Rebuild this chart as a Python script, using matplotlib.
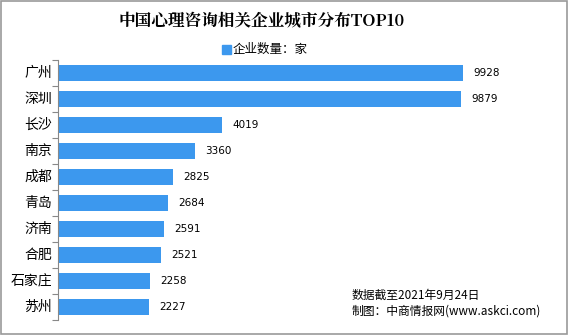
import matplotlib.pyplot as plt
from matplotlib.patches import Rectangle

plt.rcParams['font.family'] = ['Noto Sans CJK SC', 'DejaVu Sans']

cities = ["广州", "深圳", "长沙", "南京", "成都", "青岛", "济南", "合肥", "石家庄", "苏州"]
counts = [9928, 9879, 4019, 3360, 2825, 2684, 2591, 2521, 2258, 2227]

bar_color = "#3c98ee"

fig = plt.figure(figsize=(5.68, 3.35), dpi=100)
W, H = 568, 335

ax = fig.add_axes([58 / W, 15 / H, 490 / W, 260 / H])
n = len(cities)
pos = list(range(n))
ax.barh(pos, counts, height=0.58, color=bar_color)
ax.set_ylim(n - 0.5, -0.5)
ax.set_xlim(0, 12000)

for y, v in zip(pos, counts):
    ax.text(v + 250, y, str(v), va="center", ha="left", fontsize=7.5,
            family=["DejaVu Sans"])

# category ticks sit on the boundaries between bars
ax.set_yticks([p - 0.5 for p in pos] + [n - 0.5])
ax.set_yticklabels([])
ax.tick_params(axis="y", length=4, direction="out", color="#888888")
for y, c in zip(pos, cities):
    ax.text(-0.012, y, c, transform=ax.get_yaxis_transform(), ha="right",
            va="center", fontsize=10)

ax.set_xticks([])
for s in ["top", "right", "bottom"]:
    ax.spines[s].set_visible(False)
ax.spines["left"].set_color("#888888")

fig.text(262 / W, 1 - 21 / H, "中国心理咨询相关企业城市分布TOP10", ha="center",
         va="center", fontsize=12, fontweight="bold",
         family=["Noto Serif CJK SC", "Noto Sans CJK SC"])

# legend
fig.patches.append(Rectangle((222 / W, 1 - 54 / H), 9 / W, 9 / H,
                             transform=fig.transFigure, color=bar_color))
fig.text(233 / W, 1 - 49 / H, "企业数量：家", ha="left", va="center", fontsize=9)

fig.text(352 / W, 1 - 295 / H, "数据截至2021年9月24日", ha="left",
         va="center", fontsize=8.5)
fig.text(352 / W, 1 - 311 / H, "制图：中商情报网(www.askci.com)", ha="left",
         va="center", fontsize=8.5)

# outer frame
fig.patches.append(Rectangle((0.001, 0.002), 0.997, 0.995,
                             transform=fig.transFigure, fill=False,
                             edgecolor="#999999", linewidth=1.2))

fig.savefig("out.png", dpi=100)
